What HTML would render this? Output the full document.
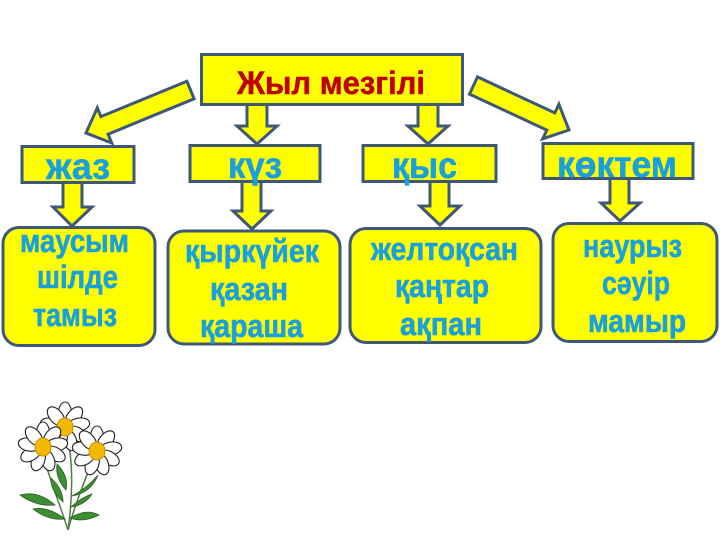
<!DOCTYPE html>
<html>
<head>
<meta charset="utf-8">
<style>
  html,body{margin:0;padding:0;background:#fff;}
  svg{display:block;}
  .t{font-family:"Liberation Sans","DejaVu Sans",sans-serif;font-weight:bold;}
  .c{fill:#1AA0DC;stroke:#1AA0DC;stroke-width:0.6;}
</style>
</head>
<body>
<svg width="720" height="540" viewBox="0 0 720 540" xmlns="http://www.w3.org/2000/svg">
  <rect width="720" height="540" fill="#fff"/>
  <defs>
    <g id="flower">
      <g fill="#fff" stroke="#222" stroke-width="1.1">
        <ellipse cx="0" cy="-14" rx="6.5" ry="11" transform="rotate(0)"/>
        <ellipse cx="0" cy="-14" rx="6.5" ry="11" transform="rotate(40)"/>
        <ellipse cx="0" cy="-14" rx="6.5" ry="11" transform="rotate(80)"/>
        <ellipse cx="0" cy="-14" rx="6.5" ry="11" transform="rotate(120)"/>
        <ellipse cx="0" cy="-14" rx="6.5" ry="11" transform="rotate(160)"/>
        <ellipse cx="0" cy="-14" rx="6.5" ry="11" transform="rotate(200)"/>
        <ellipse cx="0" cy="-14" rx="6.5" ry="11" transform="rotate(240)"/>
        <ellipse cx="0" cy="-14" rx="6.5" ry="11" transform="rotate(280)"/>
        <ellipse cx="0" cy="-14" rx="6.5" ry="11" transform="rotate(320)"/>
      </g>
      <ellipse cx="0" cy="0" rx="8" ry="9" fill="#F3B800" stroke="#C99200" stroke-width="1"/>
    </g>
  </defs>

  <!-- arrows from title -->
  <g fill="#FFFF00" stroke="#3F5878" stroke-width="3" stroke-linejoin="miter">
    <polygon points="186.9,81.2 100.9,116.6 97.3,107.8 86,133 111.7,143 108.1,134.2 194.1,98.8"/>
    <polygon points="477.5,76.9 554.8,112.9 558.9,104.2 569,130 542.7,138.8 546.8,130.1 469.5,94.1"/>
    <polygon points="247,104 267,104 267,126 277,126 257,144 237,126 247,126"/>
    <polygon points="418,104 438,104 438,126 448,126 428,144 408,126 418,126"/>
    <!-- season to months -->
    <polygon points="63,182 82,182 82,207 92,207 72,226 53,207 63,207"/>
    <polygon points="242,181 261,181 261,211 271,211 252,229 233,211 242,211"/>
    <polygon points="430,181 449,181 449,206 460,206 440,225 420,206 430,206"/>
    <polygon points="610,178 629,178 629,203 640,203 620,221 601,203 610,203"/>
  </g>

  <!-- title box -->
  <rect x="201.5" y="54.5" width="261" height="50" fill="#FFFF00" stroke="#3F5878" stroke-width="3"/>
  <text class="t" x="237" y="94" font-size="32" fill="#C00000" stroke="#C00000" stroke-width="0.5" textLength="188" lengthAdjust="spacingAndGlyphs">Жыл мезгілі</text>

  <!-- season boxes -->
  <g fill="#FFFF00" stroke="#3F5878" stroke-width="3">
    <rect x="22" y="146.5" width="112" height="36"/>
    <rect x="190" y="145.5" width="130" height="36"/>
    <rect x="363" y="145.5" width="133" height="36"/>
    <rect x="543" y="143.5" width="150" height="35"/>
  </g>
  <g class="t c" font-size="37">
    <text x="46" y="179" textLength="64" lengthAdjust="spacingAndGlyphs">жаз</text>
    <text x="228" y="178" textLength="54" lengthAdjust="spacingAndGlyphs">күз</text>
    <text x="392" y="178" textLength="65" lengthAdjust="spacingAndGlyphs">қыс</text>
    <text x="557" y="177" textLength="120" lengthAdjust="spacingAndGlyphs">көктем</text>
  </g>

  <!-- month boxes -->
  <g fill="#FFFF00" stroke="#3F5878" stroke-width="3">
    <rect x="3" y="227.5" width="152" height="118" rx="16" ry="16"/>
    <rect x="168" y="231" width="172" height="113" rx="16" ry="16"/>
    <rect x="350" y="228.5" width="191" height="114" rx="16" ry="16"/>
    <rect x="553" y="223.5" width="164" height="118" rx="16" ry="16"/>
  </g>
  <g class="t c" font-size="32">
    <text x="20" y="252" textLength="109" lengthAdjust="spacingAndGlyphs">маусым</text>
    <text x="37" y="288" textLength="81" lengthAdjust="spacingAndGlyphs">шілде</text>
    <text x="33" y="326" textLength="84" lengthAdjust="spacingAndGlyphs">тамыз</text>

    <text x="185" y="262" textLength="134" lengthAdjust="spacingAndGlyphs">қыркүйек</text>
    <text x="210" y="300" textLength="78" lengthAdjust="spacingAndGlyphs">қазан</text>
    <text x="200" y="337" textLength="103" lengthAdjust="spacingAndGlyphs">қараша</text>

    <text x="371" y="260" textLength="147" lengthAdjust="spacingAndGlyphs">желтоқсан</text>
    <text x="395" y="297" textLength="94" lengthAdjust="spacingAndGlyphs">қаңтар</text>
    <text x="400" y="335" textLength="82" lengthAdjust="spacingAndGlyphs">ақпан</text>

    <text x="583" y="257" textLength="99" lengthAdjust="spacingAndGlyphs">наурыз</text>
    <text x="602" y="294" textLength="68" lengthAdjust="spacingAndGlyphs">сәуір</text>
    <text x="588" y="332" textLength="98" lengthAdjust="spacingAndGlyphs">мамыр</text>
  </g>

  <!-- flower -->
  <g>
    <g fill="none" stroke="#4E7E46" stroke-width="1.5">
      <path d="M68,530 C60,505 50,480 43,455"/>
      <path d="M68,530 C73,495 73,460 67,437"/>
      <path d="M68,530 C75,505 83,485 92,462"/>
    </g>
    <g fill="#3E8E33" stroke="#2A5E22" stroke-width="0.8">
      <path d="M55,505 Q38,490 20,495 Q37,507 55,505Z"/>
      <path d="M65,519 Q48,506 33,509 Q48,521 65,519Z"/>
      <path d="M70,518 Q86,508 99,515 Q84,523 70,518Z"/>
      <path d="M66,490 Q55,478 57,464 Q69,476 66,490Z"/>
      <path d="M72,496 Q87,488 98,475 Q91,493 72,496Z"/>
      <path d="M63,502 Q50,490 51,478 Q63,489 63,502Z"/>
      <path d="M71,507 Q82,497 92,494 Q85,505 71,507Z"/>
    </g>
    <use href="#flower" x="65" y="427"/>
    <use href="#flower" x="43" y="447"/>
    <use href="#flower" x="97" y="451"/>
  </g>
</svg>
</body>
</html>
